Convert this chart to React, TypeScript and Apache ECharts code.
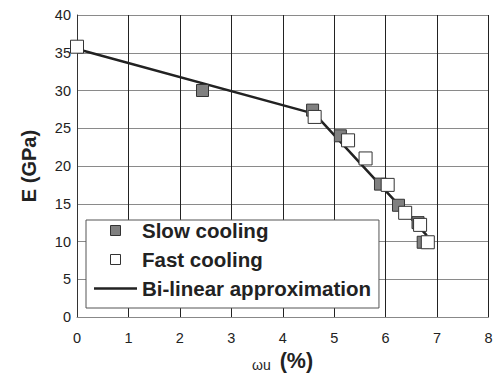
import React, { useEffect, useRef } from "react";
import * as echarts from "echarts";

const slowCooling: [number, number][] = [
  [2.44, 30.0],
  [4.58, 27.4],
  [5.12, 24.0],
  [5.9, 17.6],
  [6.25, 14.8],
  [6.63, 12.5],
  [6.73, 9.9],
];
const fastCooling: [number, number][] = [
  [0, 35.8],
  [4.62, 26.5],
  [5.27, 23.4],
  [5.61, 21.0],
  [6.04, 17.5],
  [6.38, 13.8],
  [6.67, 12.2],
  [6.82, 9.9],
];
const bilinear: [number, number][] = [
  [0, 35.5],
  [4.62, 26.9],
  [6.8, 10.8],
];
const xTicks = { min: 0, max: 8, interval: 1 };
const yTicks = { min: 0, max: 40, interval: 5 };

const FONT = "'Liberation Sans', Arial, sans-serif";
const SQUARE = "path://M0,0h10v10h-10z";
const BAR = "path://M0,0h38v2.2h-38z";

export default function App() {
  const ref = useRef<HTMLDivElement>(null);
  useEffect(() => {
    if (!ref.current) return;
    const chart = echarts.init(ref.current, undefined, { renderer: "svg" });
    chart.setOption({
      animation: false,
      backgroundColor: "#ffffff",
      textStyle: { fontFamily: FONT },
      grid: { left: 77, right: 7.5, top: 15, bottom: 62, show: false },
      xAxis: {
        type: "value",
        ...xTicks,
        axisLine: { show: true, lineStyle: { color: "#888", width: 1 } },
        axisTick: { show: false },
        axisLabel: { color: "#222", fontSize: 14.5, margin: 13, fontFamily: FONT },
        splitLine: { show: true, lineStyle: { color: "#222", width: 1 } },
      },
      yAxis: {
        type: "value",
        ...yTicks,
        name: "E (GPa)",
        nameLocation: "middle",
        nameGap: 38,
        nameTextStyle: { fontSize: 20, fontWeight: "bold", color: "#222", fontFamily: FONT },
        axisLine: { show: true, lineStyle: { color: "#333", width: 1 } },
        axisTick: { show: false },
        axisLabel: { color: "#222", fontSize: 14.5, margin: 6, fontFamily: FONT },
        splitLine: { show: true, lineStyle: { color: "#8a8a8a", width: 1 } },
      },
      legend: {
        orient: "vertical",
        left: 86,
        top: 220,
        padding: [0, 8, 9, 8],
        itemGap: 8,
        itemWidth: 43,
        itemHeight: 10,
        symbolKeepAspect: true,
        borderColor: "#555",
        borderWidth: 1,
        backgroundColor: "#fff",
        textStyle: { fontSize: 20.5, lineHeight: 20, fontWeight: "bold", color: "#222", fontFamily: FONT },
        data: [
          { name: "Slow cooling", icon: SQUARE, itemStyle: { color: "#808080", borderColor: "#333", borderWidth: 1 } },
          { name: "Fast cooling", icon: SQUARE, itemStyle: { color: "#fff", borderColor: "#333", borderWidth: 1 } },
          { name: "Bi-linear approximation", icon: BAR, itemStyle: { color: "#222", borderWidth: 0 } },
        ],
      },
      graphic: [
        {
          type: "text",
          left: 252,
          top: 350,
          style: {
            text: "{a|ωu}{b|(%)}",
            rich: {
              a: { fontSize: 14, fontFamily: FONT, fill: "#222", padding: [7, 0, 0, 0] },
              b: { fontSize: 21.5, fontWeight: "bold", fontFamily: FONT, fill: "#222", padding: [0, 0, 0, 9] },
            },
          },
        },
      ],
      series: [
        {
          name: "Bi-linear approximation",
          type: "line",
          data: bilinear,
          symbol: "none",
          lineStyle: { color: "#222", width: 2.5 },
          itemStyle: { color: "#222" },
          z: 2,
        },
        {
          name: "Slow cooling",
          type: "scatter",
          data: slowCooling,
          symbol: "rect",
          symbolSize: 12,
          itemStyle: { color: "#808080", borderColor: "#333", borderWidth: 1, opacity: 1 },
          z: 3,
        },
        {
          name: "Fast cooling",
          type: "scatter",
          data: fastCooling,
          symbol: "rect",
          symbolSize: 13,
          itemStyle: { color: "#fff", borderColor: "#333", borderWidth: 1, opacity: 1 },
          z: 4,
        },
      ],
    });
    return () => chart.dispose();
  }, []);
  return (
    <div
      ref={ref}
      style={{ position: "absolute", left: 0, top: 0, width: 496, height: 379 }}
    />
  );
}
